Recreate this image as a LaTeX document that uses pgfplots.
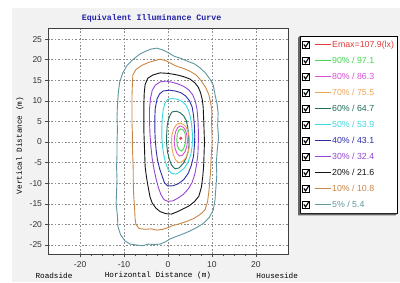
\documentclass[border=0pt]{standalone}
\usepackage{fontspec}
\setmainfont{Liberation Sans}
\newfontfamily\monofont{Liberation Mono}
\usepackage{pgfplots}
\pgfplotsset{compat=1.18}
\definecolor{cE}{RGB}{225,60,60}
\definecolor{c90}{RGB}{70,215,80}
\definecolor{c80}{RGB}{215,80,215}
\definecolor{c70}{RGB}{240,165,85}
\definecolor{c60}{RGB}{30,110,90}
\definecolor{c50}{RGB}{60,215,225}
\definecolor{c40}{RGB}{45,45,170}
\definecolor{c30}{RGB}{150,70,210}
\definecolor{c20}{RGB}{20,20,20}
\definecolor{c10}{RGB}{200,135,70}
\definecolor{c05}{RGB}{95,150,160}
\definecolor{ttl}{RGB}{35,35,170}
\begin{document}
\begin{tikzpicture}
\useasboundingbox (0pt,0pt) rectangle (400pt,282pt);
\clip (0pt,0pt) rectangle (400pt,282pt);
\fill[white] (0pt,0pt) rectangle (400pt,282pt);
\fill[black!5] (12pt,0pt) rectangle (400pt,274pt);
\begin{axis}[
  at={(48pt,28pt)}, anchor=south west,
  scale only axis, width=240pt, height=226pt,
  xmin=-27.3, xmax=27.3, ymin=-27.2, ymax=27.7,
  clip=false,
  xtick={-20,-10,0,10,20}, ytick={-25,-20,...,25},
  minor x tick num=3,
  tick align=outside, tick pos=left,
  major tick length=2.5pt, minor tick length=2pt,
  tick style={black!70, line width=0.5pt},
  axis background/.style={fill=white},
  axis line style={draw=black!75, line width=0.9pt},
  grid=major,
  major grid style={black!45, line width=0.5pt, dash pattern=on 1.6pt off 1.8pt},
  /pgf/number format/assume math mode=true,
  ticklabel style={font=\fontsize{8.5}{10}\selectfont, text=black!80},
  xticklabel style={yshift=-1.5pt},
  legend style={name=lgd, at={(1.05,0.965)}, anchor=north west, draw=black, fill=white,
    line width=0.6pt,
    font=\fontsize{8.8}{10}\selectfont, row sep=5pt,
    inner xsep=2pt, inner ysep=3pt,
    nodes={inner sep=1pt, text height=7pt, text depth=2pt},
    every even column/.style={text width=80pt}},
  legend cell align=left,
  legend image code/.code={
    \draw[black, fill=white, line width=0.5pt, solid] (0pt,-3.5pt) rectangle (7pt,3.5pt);
    \draw[black, line width=1.1pt, solid] (1.3pt,0.3pt) -- (3pt,-2.2pt) -- (6pt,2.6pt);
    \draw[#1] (12pt,0pt) -- (28pt,0pt);
  },
  every axis plot/.append style={line width=0.9pt},
]
% 5%
\addplot[c05, forget plot] coordinates {(-2.5,22.8) (-1,22.3) (0.2,21.6) (1.5,20.8) (3,20.3) (4.5,19.6) (6,19) (7.3,18) (8.5,16.8) (9.6,15.2) (10.3,13.8) (10.7,11.5) (11.2,9) (11.4,7) (11.3,4) (11.5,1) (11.2,-2) (11,-5) (11.1,-8) (10.9,-11) (10.7,-14) (10.3,-16.5) (9.4,-18.3) (8,-19.8) (6.5,-20.8) (5,-21.6) (3.5,-22.3) (2,-22.9) (0.5,-23.5) (-0.5,-24.2) (-1.8,-24.8) (-3,-24.9) (-4.5,-24.8) (-5.8,-25.2) (-7.2,-25) (-8.6,-24.8) (-9.8,-24) (-10.8,-22.5) (-11.4,-20.5) (-11.5,-18) (-11.8,-15) (-11.7,-12) (-11.6,-9) (-11.7,-6) (-11.6,-3) (-11.6,0) (-11.5,3) (-11.6,6) (-11.5,9) (-11.3,12) (-11,14.5) (-10.3,16.8) (-9.3,18.6) (-8,20) (-6.5,21.3) (-5,22.1) (-3.8,22.6) (-2.5,22.8)};
% 10%
\addplot[c10, forget plot] coordinates {(-1.8,20.1) (-0.6,19.8) (0.5,19.2) (2,18.4) (3.5,17.9) (5,17.2) (6.5,16.2) (7.6,14.8) (8.6,13.2) (9.3,11.5) (9.7,9.5) (10,7.5) (9.9,5) (10,2) (10,-1) (9.8,-4) (9.7,-7) (9.5,-9.5) (9.3,-12) (9,-14.5) (8.4,-16.5) (7.3,-17.6) (5.8,-18.6) (4.2,-19.3) (2.5,-19.9) (1,-20.3) (0,-20.8) (-1.2,-21.2) (-2.5,-21.4) (-3.8,-21.1) (-5.2,-21.2) (-6.6,-21) (-7.3,-20) (-7.5,-18.5) (-7.6,-16) (-7.8,-13) (-7.9,-10) (-7.9,-7) (-8,-4) (-8.1,-1) (-8.1,2) (-8.2,5) (-8.2,8) (-8.2,11) (-8.1,14) (-8,16.3) (-7.3,17.6) (-6,18.6) (-4.5,19.3) (-3,19.8) (-1.8,20.1)};
% 20%
\addplot[c20, forget plot] coordinates {(-1.8,16.8) (-0.3,16.7) (1.1,16.5) (2.5,16.2) (3.8,15.8) (5,15.3) (6.1,14.4) (6.9,13.3) (7.4,12) (7.8,10.3) (8,8.5) (8.1,6) (8.2,3) (8.3,0) (8.2,-3) (8.1,-6) (7.9,-8.5) (7.6,-11) (7,-13.2) (6,-14.5) (4.8,-15.5) (3.5,-16.2) (2.2,-16.9) (0.8,-17.5) (-0.5,-17.4) (-1.8,-16.9) (-2.8,-16) (-3.6,-14.8) (-4.1,-13.3) (-4.5,-11) (-4.9,-8.5) (-5.2,-6) (-5.3,-3) (-5.4,0) (-5.5,3) (-5.5,6) (-5.5,9) (-5.4,12) (-5.2,14) (-4.6,15.5) (-3.4,16.3) (-1.8,16.8)};
% 30%
\addplot[c30, forget plot] coordinates {(-1.8,14.6) (-0.5,14.8) (1,14.5) (2.3,14.1) (3.6,13.5) (4.7,12.7) (5.6,11.5) (6.2,10) (6.6,8) (6.8,5.5) (6.9,3) (6.9,0) (6.8,-3) (6.5,-5.5) (6.1,-7.8) (5.5,-9.8) (4.6,-11.4) (3.5,-12.7) (2.3,-13.6) (1.1,-14.3) (0,-14.4) (-0.9,-14) (-1.6,-12.8) (-2.2,-11) (-2.7,-9) (-3.2,-6.5) (-3.6,-4) (-3.9,-1) (-4.1,2) (-4.2,5) (-4.2,8) (-4,10.5) (-3.6,12.5) (-2.9,13.8) (-1.8,14.6)};
% 40%
\addplot[c40, forget plot] coordinates {(-1.1,12.4) (0.3,12.6) (1.6,12.4) (2.9,12) (4,11.2) (4.9,10) (5.5,8.5) (5.8,6.5) (6,4) (6.1,1.5) (6,-1) (5.8,-3.5) (5.3,-5.7) (4.6,-7.6) (3.6,-9.1) (2.4,-10.1) (1.2,-10.6) (0,-10.7) (-0.8,-9.9) (-1.3,-8.4) (-1.9,-6.5) (-2.4,-4.3) (-2.7,-2) (-2.9,0.5) (-3,3) (-3,5.8) (-2.9,8.2) (-2.5,10.4) (-1.9,11.7) (-1.1,12.4)};
% 50%
\addplot[c50, forget plot] coordinates {(0,10.4) (1.1,10.6) (2.3,10.3) (3.3,9.8) (4.1,8.9) (4.7,7.6) (5.1,6) (5.4,4) (5.6,1.5) (5.5,-1) (5.2,-3) (4.6,-4.8) (3.8,-6.2) (2.8,-7.2) (1.8,-7.8) (0.8,-7.6) (0,-6.6) (-0.5,-5.2) (-0.9,-3.5) (-1.2,-1.5) (-1.4,1) (-1.4,3.5) (-1.3,5.8) (-1.1,7.8) (-0.7,9.4) (0,10.4)};
% 60%
\addplot[c60, forget plot] coordinates {(0.9,7.3) (1.9,7.5) (2.8,7.1) (3.6,6.3) (4.2,5.1) (4.5,3.5) (4.7,1.5) (4.8,-0.5) (4.6,-2.3) (4.1,-4) (3.4,-5.3) (2.5,-6.3) (1.6,-6.5) (0.8,-5.6) (0.3,-4.2) (-0.1,-2.5) (-0.3,-0.5) (-0.3,1.8) (-0.2,3.8) (0.1,5.5) (0.5,6.6) (0.9,7.3)};
% 70%
\addplot[c70, forget plot] coordinates {(2.7,4.6) (3.5,4.3) (4.2,3.5) (4.6,2.3) (4.9,0.8) (4.9,-0.8) (4.6,-2.5) (4,-3.9) (3.2,-4.8) (2.4,-5) (1.7,-4.3) (1.2,-3) (0.9,-1.5) (0.8,0.2) (0.9,1.8) (1.3,3.2) (1.9,4.2) (2.7,4.6)};
% 80%
\addplot[c80, forget plot] coordinates {(2.8,3.9) (3.5,3.6) (4,2.8) (4.3,1.6) (4.4,0.3) (4.3,-1) (3.9,-2.3) (3.3,-3.2) (2.6,-3.4) (2,-2.7) (1.6,-1.5) (1.4,-0.1) (1.5,1.4) (1.8,2.7) (2.2,3.5) (2.8,3.9)};
% 90%
\addplot[c90, forget plot] coordinates {(2.9,3.2) (3.5,2.9) (3.9,2) (4,0.8) (3.9,-0.4) (3.6,-1.5) (3.1,-2.2) (2.5,-1.8) (2.1,-0.8) (2,0.5) (2.1,1.8) (2.4,2.8) (2.9,3.2)};
% Emax
\addplot[cE, only marks, mark=*, mark size=1pt, forget plot] coordinates {(2.9,0.9)};
\addlegendimage{cE}\addlegendentry{\textcolor{cE}{Emax=107.9(lx)}}
\addlegendimage{c90}\addlegendentry{\textcolor{c90}{90\% / 97.1}}
\addlegendimage{c80}\addlegendentry{\textcolor{c80}{80\% / 86.3}}
\addlegendimage{c70}\addlegendentry{\textcolor{c70}{70\% / 75.5}}
\addlegendimage{c60, line width=1.2pt}\addlegendentry{\textcolor{c60}{60\% / 64.7}}
\addlegendimage{c50}\addlegendentry{\textcolor{c50}{50\% / 53.9}}
\addlegendimage{c40}\addlegendentry{\textcolor{c40}{40\% / 43.1}}
\addlegendimage{c30}\addlegendentry{\textcolor{c30}{30\% / 32.4}}
\addlegendimage{c20, line width=1.2pt}\addlegendentry{\textcolor{c20}{20\% / 21.6}}
\addlegendimage{c10}\addlegendentry{\textcolor{c10}{10\% / 10.8}}
\addlegendimage{c05}\addlegendentry{\textcolor{c05}{5\% / 5.4}}
\node[font=\monofont\bfseries\fontsize{8.3}{10}\selectfont, text=ttl] at (axis description cs:0.432,1.043) {Equivalent Illuminance Curve};
\node[font=\monofont\fontsize{7.7}{9}\selectfont] at (axis description cs:0.458,-0.095) {Horizontal Distance (m)};
\node[font=\monofont\fontsize{7.7}{9}\selectfont] at (axis description cs:0.025,-0.095) {Roadside};
\node[font=\monofont\fontsize{7.7}{9}\selectfont] at (axis description cs:0.955,-0.095) {Houseside};
\node[font=\monofont\fontsize{7.7}{9}\selectfont, rotate=90] at (axis description cs:-0.117,0.48) {Vertical Distance (m)};
\end{axis}
\fill[black!60] ([shift={(-1.8pt,-1.8pt)}]lgd.north west) -- ([shift={(-1.8pt,-1.8pt)}]lgd.south west) -- ([shift={(-1.8pt,-1.8pt)}]lgd.south east) -- (lgd.south east) -- (lgd.south west) -- (lgd.north west) -- cycle;
\end{tikzpicture}
\end{document}
